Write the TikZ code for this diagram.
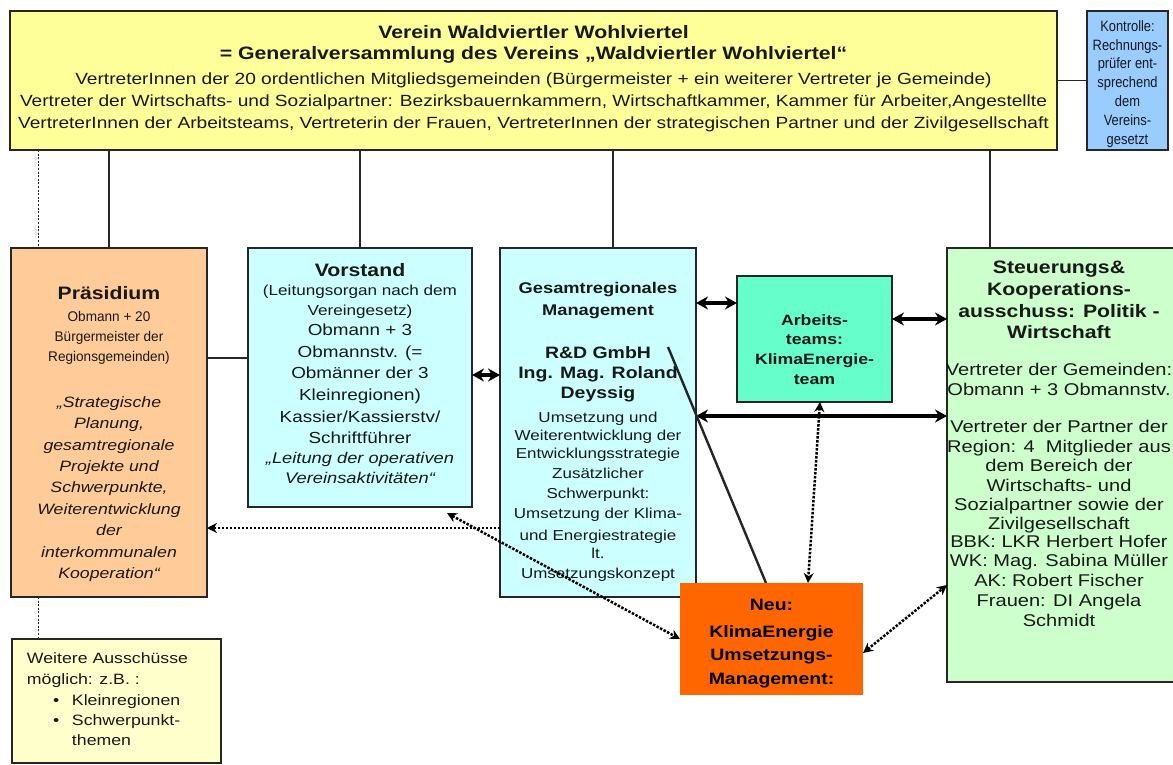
\documentclass[tikz,border=0pt]{standalone}
\usepackage{fontspec}
\setmainfont{Liberation Sans}[FakeStretch=1.18]
\newfontfamily\narrowfont{Liberation Sans}[FakeStretch=0.97]
\newfontfamily\kontfont{Liberation Sans}[FakeStretch=0.86]
\usetikzlibrary{arrows.meta,calc}
\definecolor{cTop}{HTML}{FFFF99}
\definecolor{cKon}{HTML}{99CCFF}
\definecolor{cPres}{HTML}{FFCC99}
\definecolor{cCyan}{HTML}{CCFFFF}
\definecolor{cAqua}{HTML}{66FFCC}
\definecolor{cGreen}{HTML}{CCFFCC}
\definecolor{cOrange}{HTML}{FF6600}
\definecolor{cLight}{HTML}{FFFFCC}
\newcommand\fsz[2]{\fontsize{#1}{#2}\selectfont}
\begin{document}
\begin{tikzpicture}[x=1pt,y=-1pt,
  box/.style={draw=black!85,line width=1.2pt,inner sep=0pt,outer sep=0pt},
  txt/.style={inner sep=0pt,outer sep=0pt,align=center,text=black!90,anchor=north},
  dbl/.style={line width=3.2pt,{Stealth[length=12pt,width=13pt]}-{Stealth[length=12pt,width=13pt]}},
  dotline/.style={line width=2.5pt,dash pattern=on 2.5pt off 1.5pt},
  dtips/.style={{Stealth[length=10pt,width=10pt]}-{Stealth[length=10pt,width=10pt]}},
  dtip/.style={-{Stealth[length=10pt,width=10pt]}},
  thickline/.style={line width=2.4pt,black!85},
  thinline/.style={line width=1.1pt,black!85},
  dashline/.style={line width=1pt,black!85,dash pattern=on 2pt off 1.6pt}]
\useasboundingbox (0,0) rectangle (1173,765);
\fill[white] (0,0) rectangle (1173,765);

% boxes
\node[box,fill=cTop,minimum width=1047pt,minimum height=139pt] (top) at (533.5,80.5) {};
\node[box,fill=cKon,minimum width=81pt,minimum height=139pt] (kon) at (1127.5,80.5) {};
\node[box,fill=cPres,minimum width=196pt,minimum height=349pt] (pres) at (109,422.5) {};
\node[box,fill=cCyan,minimum width=224pt,minimum height=259pt] (vor) at (360,377.5) {};
\node[box,fill=cCyan,minimum width=196pt,minimum height=349pt] (ges) at (598,422.5) {};
\node[box,fill=cAqua,minimum width=155pt,minimum height=126pt] (arb) at (814.5,339) {};
\node[box,fill=cGreen,minimum width=228pt,minimum height=434pt] (steu) at (1061,465) {};
\node[box,fill=cLight,minimum width=209pt,minimum height=124pt] (weit) at (116.5,701) {};

% texts
\node[txt,font=\bfseries\fsz{18}{22}] (toptxt) at (533.5,25.3) {%
{Verein Waldviertler Wohlviertel}\\[-1pt]
{= Generalversammlung des Vereins „Waldviertler Wohlviertel“}\\[3pt]
{\mdseries\fsz{16.2}{22}VertreterInnen der 20 ordentlichen Mitgliedsgemeinden (Bürgermeister + ein weiterer Vertreter je Gemeinde)}\\
{\mdseries\fsz{16.2}{22}Vertreter der Wirtschafts- und Sozialpartner: Bezirksbauernkammern, Wirtschaftkammer, Kammer für Arbeiter,Angestellte}\\
{\mdseries\fsz{16.2}{22}VertreterInnen der Arbeitsteams, Vertreterin der Frauen, VertreterInnen der strategischen Partner und der Zivilgesellschaft}};

\node[txt,font=\kontfont\fsz{15}{18.8}] (kontxt) at (1127.5,20.5) {Kontrolle:\\Rechnungs-\\prüfer ent-\\sprechend\\dem\\Vereins-\\gesetzt};

\node[txt,font=\fsz{15}{21.4}] (prestxt) at (109,286.3) {%
{\bfseries\fsz{18}{21.4}Präsidium}\\[1.1pt]
{\narrowfont\fsz{14}{21.4}Obmann + 20}\\[-1.4pt]
{\narrowfont\fsz{14}{21.4}Bürgermeister der}\\[-1.4pt]
{\narrowfont\fsz{14}{21.4}Regionsgemeinden)}\\[24.1pt]
{\itshape „Strategische}\\
{\itshape Planung,}\\
{\itshape gesamtregionale}\\
{\itshape Projekte und}\\
{\itshape Schwerpunkte,}\\
{\itshape Weiterentwicklung}\\
{\itshape der}\\
{\itshape interkommunalen}\\
{\itshape Kooperation“}};

\node[txt,font=\fsz{16}{21}] (vortxt) at (360,263.3) {%
{\bfseries\fsz{18}{21}Vorstand}\\[-2.3pt]
{\fsz{14.5}{21}(Leitungsorgan nach dem}\\[-1pt]
{\fsz{14.5}{21}Vereingesetz)}\\[-0.4pt]
Obmann + 3\\[1pt]
Obmannstv. (=\\
Obmänner der 3\\[1pt]
Kleinregionen)\\[1pt]
Kassier/Kassierstv/\\
Schriftführer\\[-1.2pt]
{\itshape\fsz{15.5}{21}„Leitung der operativen}\\[-1pt]
{\itshape\fsz{15.5}{21}Vereinsaktivitäten“}};

\node[txt,font=\fsz{14.4}{19.5}] (gestxt) at (598,282.3) {%
{\bfseries\fsz{15.5}{19.5}Gesamtregionales}\\[2.5pt]
{\bfseries\fsz{15.5}{19.5}Management}\\[23.8pt]
{\bfseries\fsz{16.5}{19.5}R\&D GmbH}\\[0.5pt]
{\bfseries\fsz{16.5}{19.5}Ing. Mag. Roland}\\[0.5pt]
{\bfseries\fsz{16.5}{19.5}Deyssig}\\[3.8pt]
Umsetzung und\\[-1.5pt]
Weiterentwicklung der\\[-1.5pt]
Entwicklungsstrategie\\[0.5pt]
Zusätzlicher\\[0.5pt]
Schwerpunkt:\\[0.5pt]
Umsetzung der Klima-\\[2.5pt]
und Energiestrategie\\[-1.5pt]
lt.\\[0.5pt]
Umsetzungskonzept};

\node[txt,font=\bfseries\fsz{15}{19.7}] (arbtxt) at (814.5,314.4) {Arbeits-\\teams:\\KlimaEnergie-\\team};

\node[txt,font=\fsz{17}{19.6}] (steutxt) at (1059,261.3) {%
{\bfseries\fsz{18}{19.6}Steuerungs\&}\\[2.4pt]
{\bfseries\fsz{18}{19.6}Kooperations-}\\[2.4pt]
{\bfseries\fsz{18}{19.6}ausschuss: Politik -}\\[1.4pt]
{\bfseries\fsz{18}{19.6}Wirtschaft}\\[17pt]
Vertreter der Gemeinden:\\[0.4pt]
Obmann + 3 Obmannstv.\\[17.4pt]
Vertreter der Partner der\\
Region: 4\ \ Mitglieder aus\\
dem Bereich der\\
Wirtschafts- und\\
Sozialpartner sowie der\\[-0.6pt]
Zivilgesellschaft\\[-1.6pt]
BBK: LKR Herbert Hofer\\[-0.6pt]
WK: Mag. Sabina Müller\\[0.4pt]
AK: Robert Fischer\\[0.4pt]
Frauen: DI Angela\\[0.4pt]
Schmidt};

\node[txt,anchor=north west,align=left,font=\fsz{15}{21}] (weittxt) at (27,652.5) {%
Weitere Ausschüsse\\
möglich: z.B. :\\
\hspace*{26pt}\makebox[19pt][l]{•}Kleinregionen\\[-1pt]
\hspace*{26pt}\makebox[19pt][l]{•}Schwerpunkt-\\[-1pt]
\hspace*{45pt}themen};

% coordinates
\coordinate (xd) at (38,0);
\coordinate (xg) at (613,0);
\coordinate (xs) at (990,0);
\coordinate (ypv) at (0,358);
\coordinate (yvg) at (0,375);
\coordinate (yga) at (0,303);
\coordinate (yas) at (0,319);
\coordinate (ygs) at (0,416);
\coordinate (ygp) at (0,528);
\coordinate (rd) at (668,347);

% connectors from top
\draw[dashline] (top.south -| xd) -- (pres.north -| xd);
\draw[dashline] (pres.south -| xd) -- (weit.north -| xd);
\draw[thinline] (top.south -| pres.north) -- (pres.north);
\draw[thickline] (top.south -| vor.north) -- (vor.north);
\draw[thickline] (top.south -| xg) -- (ges.north -| xg);
\draw[thickline] (top.south -| xs) -- (steu.north -| xs);
\draw[thinline] (kon.west -| top.east) -- (kon.west);
\draw[thinline] (pres.east |- ypv) -- (vor.west |- ypv);

% double arrows
\draw[dbl] (vor.east |- yvg) -- (ges.west |- yvg);
\draw[dbl] (ges.east |- yga) -- (arb.west |- yga);
\draw[dbl] (arb.east |- yas) -- (steu.west |- yas);
\draw[dbl] (ges.east |- ygs) -- (steu.west |- ygs);

% dotted arrow to Praesidium and diagonal line
\draw[dotline,dtip] (ges.west |- ygp) -- (pres.east |- ygp);
\draw[thickline] (rd) -- ([xshift=-5.5pt]771.5,583);

% Neu box on top
\node[box,draw=none,fill=cOrange,minimum width=183pt,minimum height=112pt] (neu) at (771.5,639) {};
\node[txt,text=black,font=\bfseries\fsz{16.5}{23.7}] (neutxt) at (771.5,598.9) {Neu:\\[3.3pt]KlimaEnergie\\Umsetzungs-\\Management:};

\draw[dotline,dtips] ([shift={(-25pt,-6pt)}]vor.south east) -- (neu.west);
\draw[dotline,dtips] ([xshift=5.5pt]arb.south) -- ([xshift=36.5pt]neu.north);
\draw[dotline,dtips] ([yshift=-14pt]neu.east) -- ([yshift=-120pt]steu.west);
\end{tikzpicture}
\end{document}
